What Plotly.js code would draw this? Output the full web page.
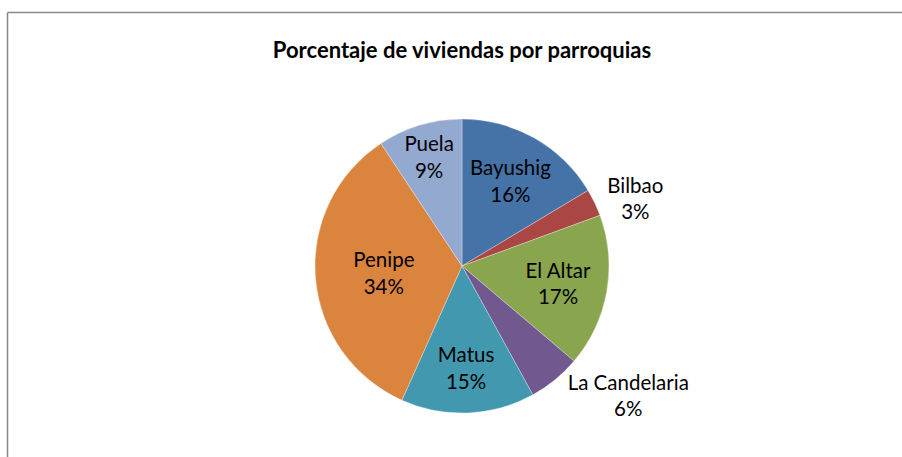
<!DOCTYPE html>
<html>
<head>
<meta charset="utf-8">
<script src="https://cdn.plot.ly/plotly-3.0.1.min.js"></script>
<style>
html,body{margin:0;padding:0;background:#fff;}
#chart{width:902px;height:457px;}
</style>
</head>
<body>
<div id="chart"></div>
<script>
var parroquias = ["Bayushig", "Bilbao", "El Altar", "La Candelaria", "Matus", "Penipe", "Puela"];
var porcentajes = [16.4, 3.0, 16.8, 5.8, 14.7, 34.0, 9.3];
var colores = ["#4572A7", "#AA4643", "#89A54E", "#71588F", "#4198AF", "#DB843D", "#93A9CF"];
var posiciones = ["inside", "outside", "inside", "outside", "inside", "inside", "inside"];
var titulo = "Porcentaje de viviendas por parroquias";

var W = 902, H = 457;
var cx = 462, cy = 266, r = 147;

var trace = {
  type: "pie",
  labels: parroquias,
  values: porcentajes,
  sort: false,
  direction: "clockwise",
  rotation: 0,
  marker: {colors: colores, line: {color: "rgba(255,255,255,0.5)", width: 0.6}},
  texttemplate: "%{label}<br>%{percent:.0%}",
  textposition: posiciones,
  insidetextorientation: "horizontal",
  textfont: {family: "Lato, 'Open Sans', sans-serif", size: 20.5, color: "#000"},
  hoverinfo: "label+percent",
  showlegend: false,
  domain: {
    x: [(cx - r) / W, (cx + r) / W],
    y: [1 - (cy + r) / H, 1 - (cy - r) / H]
  }
};

var layout = {
  width: W, height: H,
  margin: {l: 0, r: 0, t: 0, b: 0},
  paper_bgcolor: "#fff",
  uniformtext: {mode: "show", minsize: 20.5},
  title: {
    text: "<b>" + titulo + "</b>",
    font: {family: "Lato, 'Open Sans', sans-serif", size: 22, color: "#000"},
    x: 462 / W, xanchor: "center",
    y: 1 - 50 / H, yanchor: "middle",
    xref: "paper", yref: "paper"
  },
  shapes: [
    {type: "line", xref: "paper", yref: "paper", x0: 7.5 / W, x1: 1.01, y0: 1 - 12.5 / H, y1: 1 - 12.5 / H, line: {color: "#888", width: 1.5}},
    {type: "line", xref: "paper", yref: "paper", x0: 7.5 / W, x1: 7.5 / W, y0: 1 - 12.5 / H, y1: -0.01, line: {color: "#888", width: 1.5}}
  ]
};

Plotly.newPlot("chart", [trace], layout, {displayModeBar: false, staticPlot: true});
</script>
</body>
</html>
